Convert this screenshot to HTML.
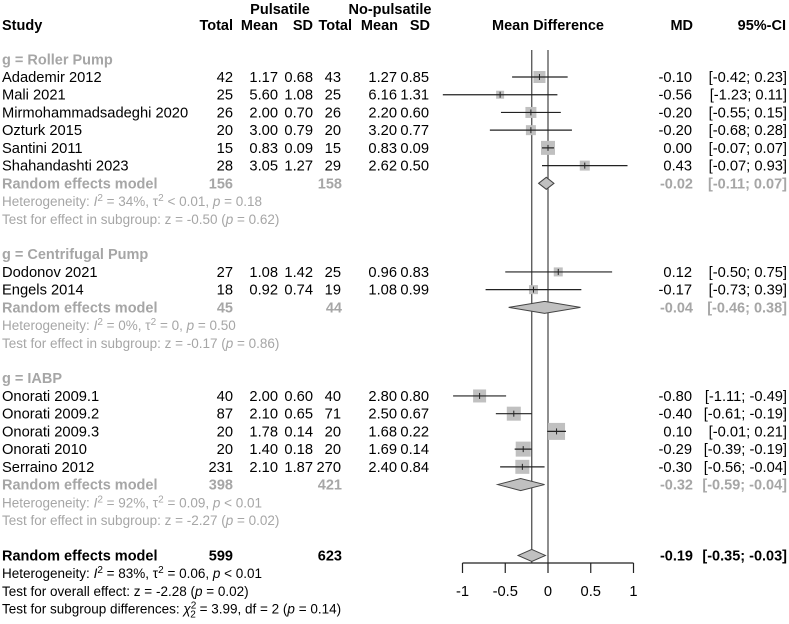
<!DOCTYPE html>
<html><head><meta charset="utf-8"><style>
body{margin:0;background:#fff}
svg{font-family:"Liberation Sans",Arial,sans-serif;font-size:14.7px}
.g{fill:#a6a6a6}
</style></head><body>
<svg id="plot" width="789" height="619" viewBox="0 0 789 619" xmlns="http://www.w3.org/2000/svg">
<g font-weight="bold" font-size="14.5">
<text x="280" y="14" text-anchor="middle">Pulsatile</text>
<text x="390" y="14" text-anchor="middle">No-pulsatile</text>
<text x="2" y="30">Study</text>
<text x="233" y="30" text-anchor="end">Total</text>
<text x="278" y="30" text-anchor="end">Mean</text>
<text x="313" y="30" text-anchor="end">SD</text>
<text x="352" y="30" text-anchor="end">Total</text>
<text x="398" y="30" text-anchor="end">Mean</text>
<text x="430" y="30" text-anchor="end">SD</text>
<text x="548" y="30" text-anchor="middle">Mean Difference</text>
<text x="693" y="30" text-anchor="end">MD</text>
<text x="786" y="30" text-anchor="end">95%-CI</text>
</g>
<g id="rows"></g>
</svg>
<script>
const studies=["Adademir 2012","Mali 2021","Mirmohammadsadeghi 2020","Ozturk 2015","Santini 2011","Shahandashti 2023","Dodonov 2021","Engels 2014","Onorati 2009.1","Onorati 2009.2","Onorati 2009.3","Onorati 2010","Serraino 2012"];
const rowIdx=[0,1,2,3,4,5,11,12,18,19,20,21,22];
const n1=[42,25,26,20,15,28,27,18,40,87,20,20,231];
const m1=["1.17","5.60","2.00","3.00","0.83","3.05","1.08","0.92","2.00","2.10","1.78","1.40","2.10"];
const sd1=["0.68","1.08","0.70","0.79","0.09","1.27","1.42","0.74","0.60","0.65","0.14","0.18","1.87"];
const n2=[43,25,26,20,15,29,25,19,40,71,20,20,270];
const m2=["1.27","6.16","2.20","3.20","0.83","2.62","0.96","1.08","2.80","2.50","1.68","1.69","2.40"];
const sd2=["0.85","1.31","0.60","0.77","0.09","0.50","0.83","0.99","0.80","0.67","0.22","0.14","0.84"];
const md=[-0.10,-0.56,-0.20,-0.20,0.00,0.43,0.12,-0.17,-0.80,-0.40,0.10,-0.29,-0.30];
const lo=[-0.42,-1.23,-0.55,-0.68,-0.07,-0.07,-0.50,-0.73,-1.11,-0.61,-0.01,-0.39,-0.56];
const hi=[0.23,0.11,0.15,0.28,0.07,0.93,0.75,0.39,-0.49,-0.19,0.21,-0.19,-0.04];
const boxSize=[12,8,11,10,14,10,9,9,13,14,17,15,14];
const groups=["g = Roller Pump","g = Centrifugal Pump","g = IABP"];
const groupIdx=[-1,10,17];
const reIdx=[6,13,23];
const reN1=[156,45,398];
const reN2=[158,44,421];
const reMd=[-0.02,-0.04,-0.32];
const reLo=[-0.11,-0.46,-0.59];
const reHi=[0.07,0.38,-0.04];
const hetText=["Heterogeneity: <tspan font-style='italic'>I</tspan><tspan dy='-5' font-size='10'>2</tspan><tspan dy='5'> = 34%, τ</tspan><tspan dy='-5' font-size='10'>2</tspan><tspan dy='5'> &lt; 0.01, </tspan><tspan font-style='italic'>p</tspan> = 0.18",
"Heterogeneity: <tspan font-style='italic'>I</tspan><tspan dy='-5' font-size='10'>2</tspan><tspan dy='5'> = 0%, τ</tspan><tspan dy='-5' font-size='10'>2</tspan><tspan dy='5'> = 0, </tspan><tspan font-style='italic'>p</tspan> = 0.50",
"Heterogeneity: <tspan font-style='italic'>I</tspan><tspan dy='-5' font-size='10'>2</tspan><tspan dy='5'> = 92%, τ</tspan><tspan dy='-5' font-size='10'>2</tspan><tspan dy='5'> = 0.09, </tspan><tspan font-style='italic'>p</tspan> &lt; 0.01"];
const testText=["-0.50 (<tspan font-style='italic'>p</tspan> = 0.62)","-0.17 (<tspan font-style='italic'>p</tspan> = 0.86)","-2.27 (<tspan font-style='italic'>p</tspan> = 0.02)"];
const overall={md:-0.19,lo:-0.35,hi:-0.03,n1:599,n2:623};
const ticks=[-1,-0.5,0,0.5,1];
const tickLabels=["-1","-0.5","0","0.5","1"];

const X0=548,SC=85.5,Y0=77,DY=17.72;
const xs=v=>X0+v*SC;
const ys=i=>Y0+i*DY;
const f2=v=>(v<0?"-":"")+Math.abs(v).toFixed(2);
const fci=(l,h)=>"["+f2(l)+"; "+(h<0?"":" ")+f2(h)+"]";
const rows=document.getElementById('rows');
const NS="http://www.w3.org/2000/svg";
function el(tag,attrs,txt){const e=document.createElementNS(NS,tag);for(const k in attrs)e.setAttribute(k,attrs[k]);if(txt!==undefined)e.innerHTML=txt;rows.appendChild(e);return e;}
function T(x,y,s,anchor,cls,extra){const a={x:x,y:y+5,"text-anchor":anchor||"start"};if(cls)a["class"]=cls;Object.assign(a,extra||{});return el('text',a,s);}
const small={"font-size":"13.5"};
const boldHdr={"font-weight":"bold","font-size":"14.5"};

let l1=el('line',{x1:xs(0),x2:xs(0),y1:50,y2:563,stroke:"#444","stroke-width":1.2});


let l2=el('line',{x1:xs(overall.md),x2:xs(overall.md),y1:50,y2:563,stroke:"#444","stroke-width":1.2});



groups.forEach((g,k)=>{
  let t=T(2,ys(groupIdx[k]),g,"start","g",boldHdr);
  
  
  const y=ys(reIdx[k]);
  T(2,y,"Random effects model","start","g",boldHdr);
  T(233,y,reN1[k],"end","g",boldHdr);
  T(342,y,reN2[k],"end","g",boldHdr);
  T(693,y,f2(reMd[k]),"end","g",boldHdr);
  T(787,y,fci(reLo[k],reHi[k]),"end","g",{"font-weight":"bold","font-size":"14.5","xml:space":"preserve"});
  let d=el('polygon',{points:`${xs(reLo[k])},${y} ${xs(reMd[k])},${y-6} ${xs(reHi[k])},${y} ${xs(reMd[k])},${y+6}`,fill:"#c0c0c0",stroke:"#444","stroke-width":1});
  
  
  T(2,ys(reIdx[k]+1),hetText[k],"start","g",small);
  T(2,ys(reIdx[k]+2),"Test for effect in subgroup: z = "+testText[k],"start","g",small);
});

studies.forEach((s,i)=>{
  const y=ys(rowIdx[i]);
  let t=T(2,y,s);
  
  
  T(233,y,n1[i],"end");T(278,y,m1[i],"end");T(313,y,sd1[i],"end");
  T(341,y,n2[i],"end");T(397,y,m2[i],"end");T(429,y,sd2[i],"end");
  T(692,y,f2(md[i]),"end");
  T(787,y,fci(lo[i],hi[i]),"end",null,{"xml:space":"preserve"});
  const b=boxSize[i];
  let r=el('rect',{x:xs(md[i])-b/2,y:y-b/2,width:b,height:b,fill:"#c0c0c0"});
  
  
  let ci=el('line',{x1:xs(lo[i]),x2:xs(hi[i]),y1:y,y2:y,stroke:"#222","stroke-width":1.2});
  
  
  el('line',{x1:xs(md[i]),x2:xs(md[i]),y1:y-3,y2:y+3,stroke:"#222","stroke-width":1});
});

const yo=ys(27);
T(2,yo,"Random effects model","start",null,boldHdr);
T(233,yo,overall.n1,"end",null,boldHdr);
T(342,yo,overall.n2,"end",null,boldHdr);
T(693,yo,f2(overall.md),"end",null,boldHdr);
T(787,yo,fci(overall.lo,overall.hi),"end",null,{"font-weight":"bold","font-size":"14.5","xml:space":"preserve"});
let od=el('polygon',{points:`${xs(overall.lo)},${yo} ${xs(overall.md)},${yo-6} ${xs(overall.hi)},${yo} ${xs(overall.md)},${yo+6}`,fill:"#c0c0c0",stroke:"#444","stroke-width":1});


T(2,ys(28),"Heterogeneity: <tspan font-style='italic'>I</tspan><tspan dy='-5' font-size='10'>2</tspan><tspan dy='5'> = 83%, τ</tspan><tspan dy='-5' font-size='10'>2</tspan><tspan dy='5'> = 0.06, </tspan><tspan font-style='italic'>p</tspan> &lt; 0.01","start",null,small);
T(2,ys(29),"Test for overall effect: z = -2.28 (<tspan font-style='italic'>p</tspan> = 0.02)","start",null,small);
T(2,ys(30),"Test for subgroup differences: <tspan font-style='italic'>χ</tspan><tspan dy='-5' font-size='10'>2</tspan><tspan dy='9' dx='-6' font-size='10'>2</tspan><tspan dy='-4'> = 3.99, df = 2 (</tspan><tspan font-style='italic'>p</tspan> = 0.14)","start",null,small);

let ax=el('line',{x1:xs(ticks[0]),x2:xs(ticks[ticks.length-1]),y1:563,y2:563,stroke:"#222","stroke-width":1.2});


ticks.forEach((t,i)=>{
  el('line',{x1:xs(t),x2:xs(t),y1:563,y2:573,stroke:"#222","stroke-width":1.2});
  let tl=T(xs(t),591,tickLabels[i],"middle");
  
  
});
</script>
</body></html>
